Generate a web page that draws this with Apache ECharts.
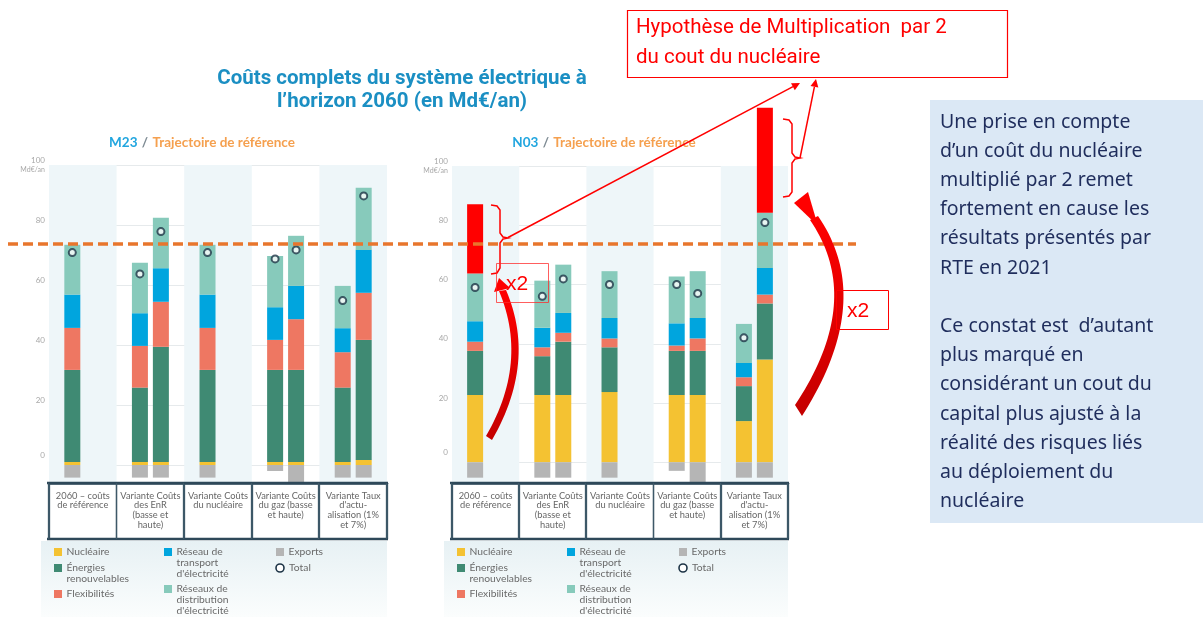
<!DOCTYPE html>
<html>
<head>
<meta charset="utf-8">
<title>Coûts complets du système électrique à l'horizon 2060</title>
<script src="https://cdn.jsdelivr.net/npm/echarts@6.0.0/dist/echarts.min.js"></script>
<style>
html, body { margin: 0; padding: 0; background: #fff; }
#chart { width: 1203px; height: 617px; }
</style>
</head>
<body>
<div id="chart"></div>
<script>
var categories = [
    '2060 – coûts\nde référence',
    'Variante Coûts\ndes EnR\n(basse et\nhaute)',
    'Variante Coûts\ndu nucléaire',
    'Variante Coûts\ndu gaz (basse\net haute)',
    'Variante Taux\nd\'actu-\nalisation (1%\net 7%)'
];
var yTicks = [0, 20, 40, 60, 80, 100];

// M23 : barre gauche (A) et barre droite (B) de chaque variante, Md€/an
var m23NucA   = [1, 1, 1, 1, 1];
var m23EnrA   = [30.7, 24.8, 30.7, 30.7, 24.8];
var m23FlexA  = [14, 13.9, 14, 10, 11.8];
var m23TranspA = [11.1, 10.9, 11.1, 10.9, 8];
var m23DistA  = [16.6, 16.8, 16.6, 17.1, 14.1];
var m23ExpA   = [-4.2, -4.2, -4.2, -2, -4.2];
var m23TotA   = [70.8, 63.7, 70.8, 68.7, 54.8];

var m23NucB   = [null, 1, null, 1, 1.7];
var m23EnrB   = [null, 38.4, null, 30.7, 40];
var m23FlexB  = [null, 15, null, 16.9, 15.7];
var m23TranspB = [null, 11.2, null, 11.1, 14.3];
var m23DistB  = [null, 16.8, null, 16.7, 20.7];
var m23ExpB   = [null, -4.2, null, -7, -4.2];
var m23TotB   = [null, 77.8, null, 71.7, 89.7];

// N03
var n03NucA   = [22.7, 22.7, 23.7, 22.7, 13.9];
var n03EnrA   = [14.9, 13.1, 15.1, 14.9, 11.8];
var n03FlexA  = [3.1, 3, 3, 1.8, 3];
var n03TranspA = [6.9, 6.6, 6.9, 7.5, 4.8];
var n03DistA  = [16.1, 15.9, 15.8, 15.8, 13.2];
var n03X2A    = [23.4, null, null, null, null];
var n03ExpA   = [-5.2, -5.2, -5.2, -2.9, -5.2];
var n03TotA   = [59, 56, 60, 60, 42];

var n03NucB   = [null, 22.7, null, 22.7, 34.7];
var n03EnrB   = [null, 18, null, 14.9, 18.9];
var n03FlexB  = [null, 3, null, 4.2, 3];
var n03TranspB = [null, 6.7, null, 6.9, 9];
var n03DistB  = [null, 16.3, null, 15.8, 18.6];
var n03X2B    = [null, null, null, null, 35.5];
var n03ExpB   = [null, -5.2, null, -8, -5.2];
var n03TotB   = [null, 61.9, null, 57, 80.9];

var refLevel = 73.7;   // niveau de référence (pointillés orange)

var segNames = ['Nucléaire', 'Énergies renouvelables', 'Flexibilités',
    'Réseau de transport d\'électricité', 'Réseaux de distribution d\'électricité',
    'Nucléaire x2', 'Exports'];
var segColors = ['#f4c232', '#3f8a73', '#ee7762', '#00a5de', '#87cabb', '#ff0000', '#b5b5b5'];

var chart = echarts.init(document.getElementById('chart'));

var series = [];
function addStack(gi, slot, parts, totals) {
    for (var k = 0; k < parts.length; k++) {
        if (!parts[k]) continue;
        series.push({
            type: 'bar',
            name: segNames[k],
            xAxisIndex: gi,
            yAxisIndex: gi,
            stack: 'g' + gi + slot,
            barWidth: 16,
            barGap: '31%',
            clip: k !== 5,
            data: parts[k],
            itemStyle: { color: segColors[k] }
        });
    }
    series.push({
        type: 'scatter',
        name: 'Total',
        xAxisIndex: gi,
        yAxisIndex: gi,
        data: totals,
        symbolSize: 7,
        symbolOffset: [slot === 'A' ? -10.5 : 10.5, 0],
        itemStyle: { color: '#fff', borderColor: '#1d3446', borderWidth: 2 },
        z: 4
    });
}
addStack(0, 'A', [m23NucA, m23EnrA, m23FlexA, m23TranspA, m23DistA, null, m23ExpA], m23TotA);
addStack(0, 'B', [m23NucB, m23EnrB, m23FlexB, m23TranspB, m23DistB, null, m23ExpB], m23TotB);
addStack(1, 'A', [n03NucA, n03EnrA, n03FlexA, n03TranspA, n03DistA, n03X2A, n03ExpA], n03TotA);
addStack(1, 'B', [n03NucB, n03EnrB, n03FlexB, n03TranspB, n03DistB, n03X2B, n03ExpB], n03TotB);

function yLabel(v) {
    if (v === 100) return '100\n{u|Md€/an}';
    if (v === 0) return '0\n\n';
    return v + '\n';
}

function xAxisFor(gi) {
    return {
        gridIndex: gi,
        type: 'category',
        data: categories,
        axisLine: { show: true, onZero: false, lineStyle: { color: '#2e4859', width: 2.5 } },
        axisTick: { show: true, length: 56, lineStyle: { color: '#3d5868', width: 1.3 } },
        axisLabel: {
            interval: 0, margin: 8, verticalAlign: 'top', lineHeight: 9.6,
            fontSize: 9.3, fontFamily: 'Lato', color: '#666'
        },
        splitArea: { show: true, areaStyle: { color: ['#eef6f9', 'rgba(255,255,255,0)'] } }
    };
}
function yAxisFor(gi, min) {
    return {
        gridIndex: gi,
        type: 'value',
        min: min,
        max: 100,
        axisLine: { show: false },
        axisTick: { show: false, customValues: yTicks },
        splitLine: { lineStyle: { color: '#e6eaec', width: 1 } },
        axisLabel: {
            customValues: yTicks, formatter: yLabel, margin: 4,
            color: '#a8a8a8', fontSize: 8, fontFamily: 'Lato', lineHeight: 10,
            verticalAlign: 'middle',
            rich: { u: { fontSize: 7, color: '#a8a8a8', lineHeight: 10 } }
        }
    };
}

var subRich = {
    a: { color: '#22a6df', fontWeight: 'bold', fontSize: 13.5, fontFamily: 'Lato' },
    s: { color: '#7f8c94', fontSize: 13.5, fontFamily: 'Lato' },
    b: { color: '#f5a04f', fontWeight: 'bold', fontSize: 13.5, fontFamily: 'Lato' }
};

chart.setOption({
    animation: false,
    backgroundColor: '#fff',
    textStyle: { fontFamily: 'Lato' },
    title: [
        {
            text: 'Coûts complets du système électrique à\nl’horizon 2060 (en Md€/an)',
            left: 397, top: 62, textAlign: 'center',
            textStyle: { fontFamily: 'Roboto', fontWeight: 'bold', fontSize: 20.5, lineHeight: 23, color: '#1b8fc3' }
        },
        { text: '{a|M23} {s|/} {b|Trajectoire de référence}', left: 197, top: 129, textAlign: 'center', textStyle: { rich: subRich } },
        { text: '{a|N03} {s|/} {b|Trajectoire de référence}', left: 599, top: 129, textAlign: 'center', textStyle: { rich: subRich } }
    ],
    grid: [
        { left: 49, top: 165, width: 338, height: 318 },
        { left: 452, top: 166, width: 336, height: 317 }
    ],
    xAxis: [xAxisFor(0), xAxisFor(1)],
    yAxis: [yAxisFor(0, -6), yAxisFor(1, -7)],
    series: series
});

// ----- habillage : légendes, tableau, annotations -----
function quad(p0, c, p1, n) {
    var pts = [];
    for (var i = 0; i <= n; i++) {
        var t = i / n, u = 1 - t;
        pts.push([u * u * p0[0] + 2 * u * t * c[0] + t * t * p1[0],
                  u * u * p0[1] + 2 * u * t * c[1] + t * t * p1[1]]);
    }
    return pts;
}

var g = [];
var red = '#ff0000';

function legendFor(x0, x1) {
    g.push({ type: 'rect', shape: { x: x0 - 8, y: 541, width: x1 - x0 + 8, height: 76 }, z: 0,
        style: { fill: { type: 'linear', x: 0, y: 0, x2: 0, y2: 1,
            colorStops: [{ offset: 0, color: '#e7f1f4' }, { offset: 1, color: '#fbfdfd' }] } } });
    // cadre du tableau des variantes
    g.push({ type: 'line', shape: { x1: x0 - 2, y1: 539, x2: x1 + 1, y2: 539 }, z: 5,
        style: { stroke: '#2e4859', lineWidth: 2.5 } });
    g.push({ type: 'line', shape: { x1: x0 - 2, y1: 483, x2: x1 + 1, y2: 483 }, z: 5,
        style: { stroke: '#2e4859', lineWidth: 2.5 } });
    var step = (x1 - x0) / categories.length;
    for (var i = 0; i <= categories.length; i++) {
        var xx = Math.round(x0 + i * step) - 0.5;
        g.push({ type: 'line', shape: { x1: xx, y1: 483, x2: xx, y2: 539 }, z: 5,
            style: { stroke: '#3d5868', lineWidth: 1.3 } });
    }
    var entries = [
        [0, 552, 0, 'Nucléaire'],
        [0, 568, 1, 'Énergies\nrenouvelables'],
        [0, 594, 2, 'Flexibilités'],
        [110, 552, 3, 'Réseau de\ntransport\nd\'électricité'],
        [110, 589, 4, 'Réseaux de\ndistribution\nd\'électricité'],
        [222, 552, 6, 'Exports'],
        [222, 568, -1, 'Total']
    ];
    var sx = x0 + 5;
    entries.forEach(function (e) {
        if (e[2] >= 0) {
            g.push({ type: 'rect', shape: { x: sx + e[0], y: e[1] - 4, width: 8, height: 8 }, z: 5,
                style: { fill: segColors[e[2]] } });
        } else {
            g.push({ type: 'circle', shape: { cx: sx + e[0] + 4, cy: e[1], r: 4 }, z: 5,
                style: { fill: '#fff', stroke: '#1d3446', lineWidth: 1.6 } });
        }
        g.push({ type: 'text', z: 5, style: {
            text: e[3], x: sx + e[0] + (e[2] >= 0 ? 12.5 : 13), y: e[1] - 5.5,
            fill: '#6a6a6a', fontSize: 10.3, fontFamily: 'Lato', lineHeight: 10.8, verticalAlign: 'top'
        } });
    });
}
legendFor(49, 387);
legendFor(452, 788);

// encadré bleu
g.push({ type: 'rect', shape: { x: 930, y: 100, width: 273, height: 423 }, z: 1, style: { fill: '#dbe8f5' } });
g.push({ type: 'text', z: 2, style: {
    text: 'Une prise en compte\nd’un coût du nucléaire\nmultiplié par 2 remet\nfortement en cause les\nrésultats présentés par\nRTE en 2021\n\nCe constat est  d’autant\nplus marqué en\nconsidérant un cout du\ncapital plus ajusté à la\nréalité des risques liés\nau déploiement du\nnucléaire',
    x: 940, y: 107.5, fill: '#1f2d5c', fontSize: 19.5, fontFamily: 'Noto Sans', lineHeight: 29.2, verticalAlign: 'top'
} });

// encadré rouge
g.push({ type: 'rect', shape: { x: 627.5, y: 10.5, width: 380, height: 67 }, z: 10,
    style: { fill: '#fff', stroke: red, lineWidth: 1.2 } });
g.push({ type: 'text', z: 11, style: {
    text: 'Hypothèse de Multiplication  par 2\ndu cout du nucléaire',
    x: 636, y: 13, fill: red, fontSize: 20.5, fontFamily: 'Roboto', lineHeight: 30, verticalAlign: 'top'
} });

// accolades
g.push({ type: 'polyline', z: 20, shape: { points: [[491, 205], [497, 206], [500, 210], [500, 233], [503, 237], [508, 238], [503, 239], [500, 243], [500, 268], [497, 273], [491, 274]] },
    style: { stroke: red, lineWidth: 1.5, fill: null } });
g.push({ type: 'polyline', z: 20, shape: { points: [[783, 119], [789, 120], [792, 124], [792, 153], [795, 157], [800, 158], [795, 159], [792, 163], [792, 192], [789, 196], [783, 197]] },
    style: { stroke: red, lineWidth: 1.5, fill: null } });

// flèches vers l'encadré
g.push({ type: 'line', z: 20, shape: { x1: 508, y1: 237.5, x2: 793, y2: 86.7 }, style: { stroke: red, lineWidth: 1.5 } });
g.push({ type: 'polygon', z: 20, shape: { points: [[800, 83], [794.8, 90.3], [791, 83.2]] }, style: { fill: red } });
g.push({ type: 'line', z: 20, shape: { x1: 800, y1: 158, x2: 814.4, y2: 86.8 }, style: { stroke: red, lineWidth: 1.5 } });
g.push({ type: 'polygon', z: 20, shape: { points: [[816, 79], [818.3, 87.6], [810.5, 86]] }, style: { fill: red } });

// flèches courbes x2
var gradRed = { type: 'linear', x: 0, y: 0, x2: 0, y2: 1,
    colorStops: [{ offset: 0, color: '#ff0000' }, { offset: 1, color: '#c40000' }] };
g.push({ type: 'polygon', z: 20, shape: { points: quad([492, 440], [537, 362], [506, 290], 30).concat(quad([499, 291], [529, 362], [486, 436], 30)) },
    style: { fill: gradRed } });
g.push({ type: 'polygon', z: 20, shape: { points: [[499, 278], [494, 292], [510, 288]] }, style: { fill: red } });
g.push({ type: 'polygon', z: 20, shape: { points: quad([802, 416], [876, 300], [818, 216], 40).concat(quad([810, 220], [865, 300], [795, 405], 40)) },
    style: { fill: gradRed } });
g.push({ type: 'polygon', z: 20, shape: { points: [[794, 203], [808, 192], [818, 226]] }, style: { fill: red } });

// cadres x2
g.push({ type: 'rect', z: 21, shape: { x: 496.5, y: 263.5, width: 52, height: 39 }, style: { fill: null, stroke: 'rgba(255,40,40,0.75)', lineWidth: 1 } });
g.push({ type: 'text', z: 21, style: { text: 'x2', x: 517, y: 284, fill: red, fontSize: 21, fontFamily: 'Liberation Sans', align: 'center', verticalAlign: 'middle' } });
g.push({ type: 'rect', z: 21, shape: { x: 836.5, y: 290.5, width: 52, height: 39 }, style: { fill: null, stroke: red, lineWidth: 1 } });
g.push({ type: 'text', z: 21, style: { text: 'x2', x: 858, y: 311, fill: red, fontSize: 21, fontFamily: 'Liberation Sans', align: 'center', verticalAlign: 'middle' } });

// ligne de référence en pointillés
var refY = chart.convertToPixel({ yAxisIndex: 0 }, refLevel);
g.push({ type: 'line', z: 15, shape: { x1: 8, y1: refY, x2: 856, y2: refY },
    style: { stroke: '#e8762d', lineWidth: 3.5, lineDash: [10, 5] } });

chart.setOption({ graphic: { elements: g } });
</script>
</body>
</html>
